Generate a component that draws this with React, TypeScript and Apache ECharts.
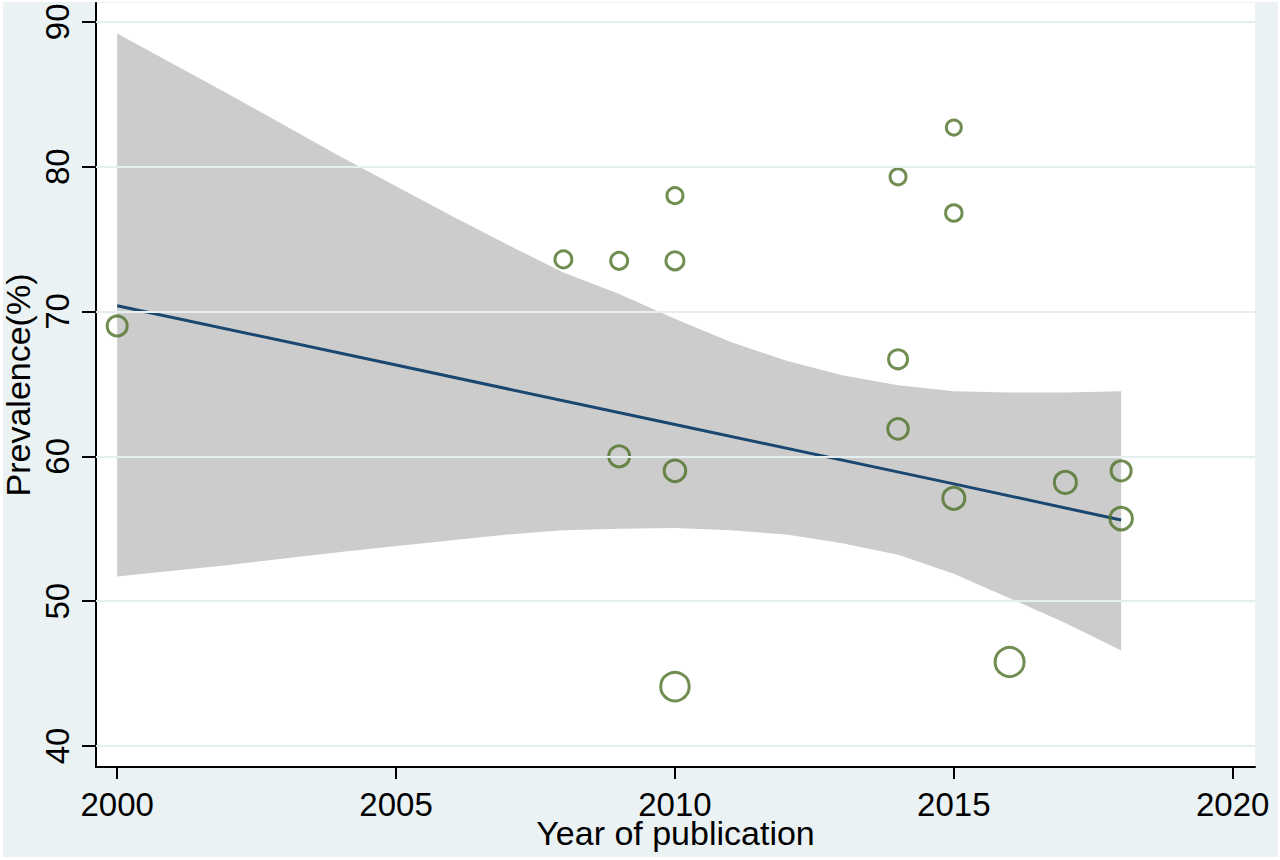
import * as echarts from "echarts"
import { useEffect, useRef } from "react"

// Study-level prevalence estimates (marker size ~ study weight)
const studyYears = [2000, 2008, 2009, 2009, 2010, 2010, 2010, 2010, 2014, 2014, 2014, 2015, 2015, 2015, 2016, 2017, 2018, 2018]
const prevalence = [69.0, 73.6, 73.5, 60.0, 78.0, 73.5, 59.0, 44.1, 79.3, 66.7, 61.9, 82.7, 76.8, 57.1, 45.8, 58.2, 59.0, 55.7]
const studyWeight = [20, 17, 17, 21, 16, 18, 21.5, 28.5, 16, 19, 20.5, 15, 16.5, 22, 29, 22, 20, 22.5]

// Fitted meta-regression line
const fitYears = [2000, 2005, 2010, 2015, 2018]
const fitValues = [70.4, 66.3, 62.2, 58.1, 55.6]

// 95% confidence band
const bandYears = [2000, 2002, 2004, 2006, 2007, 2008, 2009, 2010, 2011, 2012, 2013, 2014, 2015, 2016, 2017, 2018]
const bandLower = [51.7, 52.5, 53.4, 54.2, 54.6, 54.9, 55.0, 55.05, 54.9, 54.6, 54.0, 53.2, 51.9, 50.2, 48.5, 46.6]
const bandUpper = [89.2, 85.0, 80.7, 76.6, 74.6, 72.7, 71.2, 69.5, 67.9, 66.6, 65.6, 64.9, 64.5, 64.4, 64.4, 64.5]

const xTicks = [2000, 2005, 2010, 2015, 2020]
const yTicks = [40, 50, 60, 70, 80, 90]

const FONT = "'Liberation Sans', Arial, sans-serif"

export default function App() {
  const chartRef = useRef<HTMLDivElement>(null)

  useEffect(() => {
    if (!chartRef.current) return
    const chart = echarts.init(chartRef.current, undefined, { renderer: "svg" })

    const option: any = {
      animation: false,
      backgroundColor: "#ffffff",
      graphic: [
        {
          type: "rect",
          z: -10,
          shape: { x: 3, y: 2, width: 1275, height: 855 },
          style: { fill: "#eaf2f3" },
          silent: true,
        },
      ],
      grid: {
        left: 96,
        right: 25,
        top: 3,
        bottom: 93,
        show: true,
        backgroundColor: "#ffffff",
        borderWidth: 0,
        containLabel: false,
        outerBoundsMode: "none",
      },
      xAxis: {
        type: "value",
        min: 1999.62,
        max: 2020.4,
        axisLine: { show: true, onZero: false, lineStyle: { color: "#000", width: 2 } },
        axisTick: { show: true, length: 12, lineStyle: { color: "#000", width: 2 }, customValues: xTicks },
        axisLabel: {
          customValues: xTicks,
          formatter: (v: number) => String(v),
          fontSize: 33,
          lineHeight: 26,
          margin: 24,
          color: "#000",
          fontFamily: FONT,
        },
        splitLine: { show: false },
        name: "Year of publication",
        nameLocation: "middle",
        nameGap: 66,
        nameMoveOverlap: false,
        nameTextStyle: { fontSize: 34, lineHeight: 24, color: "#000", fontFamily: FONT, verticalAlign: "middle" },
      },
      yAxis: {
        type: "value",
        min: 38.55,
        max: 91.3,
        axisLine: { show: true, onZero: false, lineStyle: { color: "#000", width: 2 } },
        axisTick: { show: true, length: 14, lineStyle: { color: "#000", width: 2 }, customValues: yTicks },
        axisLabel: {
          customValues: yTicks,
          formatter: (v: number) => String(v),
          rotate: 90,
          fontSize: 33,
          margin: 22,
          color: "#000",
          fontFamily: FONT,
        },
        splitLine: { show: false },
        name: "Prevalence(%)",
        nameLocation: "middle",
        nameGap: 61,
        nameMoveOverlap: false,
        nameTextStyle: { fontSize: 34, color: "#000", fontFamily: FONT },
      },
      series: [
        {
          // horizontal grid lines
          type: "line",
          z: 1,
          data: [],
          markLine: {
            silent: true,
            symbol: "none",
            label: { show: false },
            lineStyle: { color: "#e6efef", width: 2, type: "solid" },
            data: yTicks.map((v) => ({ yAxis: v })),
          },
        },
        {
          type: "custom",
          z: 2,
          silent: true,
          data: [[bandYears[0], bandLower[0]]],
          renderItem: (_params: any, api: any) => {
            const upper = bandYears.map((yr, i) => api.coord([yr, bandUpper[i]]))
            const lower = bandYears.map((yr, i) => api.coord([yr, bandLower[i]])).reverse()
            return {
              type: "polygon",
              shape: { points: upper.concat(lower) },
              style: { fill: "#cccccc" },
            }
          },
        },
        {
          type: "line",
          z: 3,
          symbol: "none",
          data: fitYears.map((yr, i) => [yr, fitValues[i]]),
          lineStyle: { color: "#1a476f", width: 3 },
        },
        {
          type: "scatter",
          z: 4,
          symbol: "circle",
          data: studyYears.map((yr, i) => [yr, prevalence[i], studyWeight[i]]),
          symbolSize: (val: number[]) => val[2],
          itemStyle: { color: "rgba(0,0,0,0)", borderColor: "#4e7025", borderWidth: 3 },
        },
      ],
    }

    chart.setOption(option)
    return () => chart.dispose()
  }, [])

  return (
    <div
      ref={chartRef}
      style={{ position: "fixed", left: 0, top: 0, width: 1280, height: 860 }}
    />
  )
}
